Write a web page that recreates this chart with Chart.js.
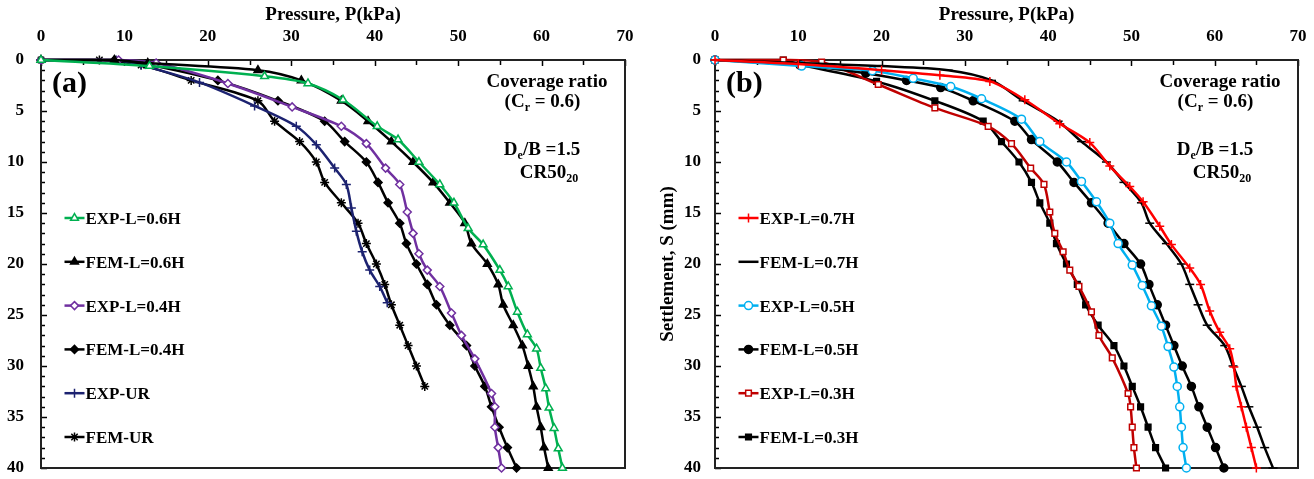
<!DOCTYPE html>
<html><head><meta charset="utf-8">
<script src="https://cdn.jsdelivr.net/npm/chart.js@4.4.1/dist/chart.umd.min.js"></script>
<style>
html,body{margin:0;padding:0;background:#fff;}
#wrap{position:relative;width:1314px;height:479px;overflow:hidden;}
canvas{position:absolute;top:0;}
</style></head><body>
<div id="wrap">
<canvas id="ca" width="657" height="479" style="left:0"></canvas>
<canvas id="cb" width="657" height="479" style="left:657px"></canvas>
</div>
<script>
// ---- tick labels ----
const xTickValues = [0, 10, 20, 30, 40, 50, 60, 70];
const yTickValues = [0, 5, 10, 15, 20, 25, 30, 35, 40];

// ---- panel (a) ----
const labelsA = ['EXP-L=0.6H', 'FEM-L=0.6H', 'EXP-L=0.4H', 'FEM-L=0.4H', 'EXP-UR', 'FEM-UR'];
const pExp06 = [0, 13, 26.8, 32, 36.2, 40.3, 42.8, 45.3, 47.8, 49.5, 51.2, 53, 55, 56, 57.1, 58.3, 59.4, 59.9, 60.5, 60.9, 61.5, 62.0, 62.5];
const sExp06 = [0, 0.6, 1.6, 2.3, 3.9, 6.5, 7.8, 10.0, 12.2, 14, 16.5, 18.1, 20.6, 22.2, 24.7, 26.9, 28.3, 30.2, 32.2, 34.1, 36.1, 38.1, 40];
const pFem06 = [0, 8.8, 12.8, 26, 31.2, 36, 39.2, 42, 44.6, 47, 49, 50.8, 51.6, 53.5, 54.8, 55.4, 56.6, 57.7, 58.4, 59, 59.4, 59.9, 60.3, 60.8];
const sFem06 = [0, 0, 0.3, 1.0, 2, 4, 6, 8, 10, 12, 14, 16, 18, 20, 22, 24, 26, 28, 30, 32, 34, 36, 38, 40];
const pExp04 = [0, 9.3, 13.8, 22.4, 30.1, 36, 39, 41.3, 43, 43.9, 44.6, 45.3, 46.3, 47.8, 49.2, 50.4, 52, 54, 54.4, 54.4, 54.8, 55.2];
const sExp04 = [0, 0, 0.3, 2.3, 4.6, 6.5, 8.2, 10.6, 12.2, 14.9, 17, 19, 20.6, 22.2, 24.8, 27, 29.3, 32.7, 34, 36, 38, 40];
const pFem04 = [0, 8.8, 12.5, 21.2, 28.4, 34, 36.4, 39, 40.4, 41.6, 43, 43.8, 45, 46.3, 47.4, 49, 51, 52, 53.2, 54, 54.9, 55.9, 57];
const sFem04 = [0, 0, 0.4, 2, 4, 6, 8, 10, 12, 14, 16, 18, 20, 22, 24, 26, 28, 30, 32, 34, 36, 38, 40];
const pExpUR = [0, 9, 12, 19, 25.6, 30.6, 33, 35.2, 36.6, 37.2, 37.8, 38.5, 39.4, 40.6, 41.5];
const sExpUR = [0, 0, 0.5, 2.2, 4.5, 6.5, 8.3, 10.6, 12.2, 14.5, 16.8, 18.8, 20.6, 22.2, 23.8];
const pFemUR = [0, 7, 12, 18, 26, 28, 31, 33, 34, 36, 38, 39, 40.2, 41.2, 42, 43, 44, 45, 46];
const sFemUR = [0, 0, 0.5, 2, 4, 6, 8, 10, 12, 14, 16, 18, 20, 22, 24, 26, 28, 30, 32];

// ---- panel (b) ----
const labelsB = ['EXP-L=0.7H', 'FEM-L=0.7H', 'EXP-L=0.5H', 'FEM-L=0.5H', 'EXP-L=0.3H', 'FEM-L=0.3H'];
const pExp07 = [0, 10, 20, 27, 33, 37.2, 41.4, 45, 47.4, 49.8, 51.4, 53.4, 54.8, 57, 58.3, 59.4, 60.6, 61.8, 62.3, 62.6, 63.2, 63.8, 64.4, 65];
const sExp07 = [0, 0.4, 1.0, 1.5, 2.1, 3.9, 6.25, 8.1, 10.4, 12.4, 13.9, 16.3, 18.1, 20.4, 22, 24.6, 26.7, 28.3, 30.1, 32, 34, 36, 38, 40];
const pFem07 = [0, 10, 20, 28, 33.2, 37, 41.2, 44, 47, 49.1, 51.2, 52.2, 54.2, 56, 57, 58, 59.1, 61.2, 62.2, 63.2, 64.1, 65.1, 66, 67];
const sFem07 = [0, 0.3, 0.6, 1.0, 2.0, 4, 6, 8, 10, 12, 14, 16, 18, 20, 22, 24, 26, 28, 30, 32, 34, 36, 38, 40];
const pExp05 = [0, 10.4, 18.9, 23.8, 28.3, 32, 36.8, 39, 42.2, 44, 45.8, 47.4, 48.4, 50.1, 51.3, 52.4, 53.6, 54.4, 55.1, 55.5, 55.8, 56, 56.2, 56.6];
const sExp05 = [0, 0.6, 1.05, 1.8, 2.6, 3.8, 5.8, 8, 10, 11.9, 13.9, 16, 18, 20.1, 22.1, 24.1, 26.1, 28.1, 30.1, 32, 34, 36, 38, 40];
const pFem05 = [0, 10.2, 18.1, 23, 27.1, 31, 36, 38, 41.1, 43.1, 45.2, 47.2, 49.1, 51.1, 52.1, 53.1, 54.1, 55.1, 56.1, 57.2, 58.1, 59.1, 60.1, 61.1];
const sFem05 = [0, 0.5, 1.3, 2, 2.7, 4, 6, 7.8, 10, 12, 14, 16, 18, 20, 22, 24, 26, 28, 30, 32, 34, 36, 38, 40];
const pExp03 = [0, 8.2, 12.8, 19.6, 26.4, 32.8, 35.6, 37.9, 39.5, 40.2, 40.8, 41.8, 42.6, 43.7, 45.2, 46.1, 47.7, 49.6, 49.9, 50.1, 50.3, 50.6];
const sExp03 = [0, 0, 0.2, 2.4, 4.7, 6.5, 8.2, 10.6, 12.2, 14.9, 17, 18.8, 20.6, 22.2, 24.7, 27, 29.2, 32.7, 34, 36, 38, 40];
const pFem03 = [0, 8.2, 10.4, 19.4, 26.4, 32.2, 34.4, 36.5, 38, 39, 40.2, 41, 42.2, 43.5, 44.5, 46, 47.9, 49.1, 50.1, 51.1, 52, 52.9, 54.1];
const sFem03 = [0, 0, 0.5, 2.1, 4, 6, 8, 10, 12, 14, 16, 18, 20, 22, 24, 26, 28, 30, 32, 34, 36, 38, 40];

const FONT = '"Liberation Serif","Times New Roman",serif';

function pts(P, S) { return P.map((p, i) => ({ x: p, y: S[i] })); }
function ds(label, P, S, color, style, open, r) {
  return {
    label, data: pts(P, S), showLine: true, borderColor: color, borderWidth: 2.5,
    backgroundColor: open ? '#ffffff' : color,
    pointStyle: style, pointRadius: r || 4, pointBorderWidth: 1.5,
    pointBorderColor: color, pointBackgroundColor: open ? '#ffffff' : color,
    tension: 0.3, clip: false
  };
}

function drawRich(ctx, parts, cx, base, size) {
  const items = parts.map(([t, sub]) => {
    const f = 'bold ' + (sub ? Math.round(size * 0.65) : size) + 'px ' + FONT;
    ctx.font = f;
    return { t, sub, f, w: ctx.measureText(t).width };
  });
  const W = items.reduce((a, b) => a + b.w, 0);
  let x = cx - W / 2;
  ctx.textAlign = 'left'; ctx.textBaseline = 'alphabetic'; ctx.fillStyle = '#000';
  items.forEach(it => { ctx.font = it.f; ctx.fillText(it.t, x, base + (it.sub ? size * 0.22 : 0)); x += it.w; });
}

function makePlugin(tag) {
  return {
    id: 'deco',
    beforeDatasetsDraw(chart) {
      const { ctx, chartArea: a, scales: { x, y } } = chart;
      ctx.save();
      ctx.strokeStyle = '#000'; ctx.lineWidth = 1.5;
      for (let v = 0; v <= 70; v += 5) {
        const px = Math.round(x.getPixelForValue(v)) + 0.5;
        ctx.beginPath(); ctx.moveTo(px, a.top); ctx.lineTo(px, a.top + (v % 10 === 0 ? 6 : 5)); ctx.stroke();
      }
      for (let v = 0; v <= 40; v += 1) {
        const py = Math.round(y.getPixelForValue(v)) + 0.5;
        ctx.beginPath(); ctx.moveTo(a.left, py); ctx.lineTo(a.left + (v % 5 === 0 ? 6 : 4), py); ctx.stroke();
      }
      ctx.lineWidth = 2; ctx.strokeStyle = '#222';
      ctx.strokeRect(a.left, a.top, a.right - a.left, a.bottom - a.top);
      ctx.restore();
    },
    afterDraw(chart) {
      const { ctx, chartArea: a } = chart;
      ctx.save();
      ctx.font = 'bold 30px ' + FONT; ctx.fillStyle = '#000'; ctx.textAlign = 'left'; ctx.textBaseline = 'alphabetic';
      ctx.fillText(tag, a.left + 11, 92);
      drawRich(ctx, [['Coverage ratio', false]], a.right - 78, 87, 19);
      drawRich(ctx, [['(C', false], ['r', true], [' = 0.6)', false]], a.right - 82.5, 107, 19);
      drawRich(ctx, [['D', false], ['e', true], ['/B =1.5', false]], a.right - 83, 155, 19);
      drawRich(ctx, [['CR50', false], ['20', true]], a.right - 76, 178, 19);
      chart.data.datasets.forEach((d, i) => {
        const yy = 218 + i * 43.8;
        const x0 = a.left + 23.5, x1 = a.left + 43.5;
        ctx.strokeStyle = d.borderColor; ctx.lineWidth = 2.5;
        ctx.beginPath(); ctx.moveTo(x0, yy); ctx.lineTo(x1, yy); ctx.stroke();
        ctx.fillStyle = d.pointBackgroundColor; ctx.strokeStyle = d.pointBorderColor; ctx.lineWidth = d.pointBorderWidth;
        Chart.helpers.drawPoint(ctx, { pointStyle: d.pointStyle, radius: d.pointRadius, rotation: 0, borderWidth: d.pointBorderWidth }, (x0 + x1) / 2, yy);
        ctx.font = 'bold 17px ' + FONT; ctx.fillStyle = '#000'; ctx.textAlign = 'left'; ctx.textBaseline = 'alphabetic';
        ctx.fillText(d.label, a.left + 44.5, yy + 6);
      });
      ctx.restore();
    }
  };
}

function makeChart(id, datasets, tag, yW, padRight, yTitle, yPad) {
  return new Chart(document.getElementById(id), {
    type: 'scatter',
    data: { datasets },
    options: {
      responsive: false, animation: false,
      layout: { padding: { left: 0, right: padRight, top: 0, bottom: 11 } },
      plugins: { legend: { display: false }, tooltip: { enabled: false } },
      scales: {
        x: {
          type: 'linear', position: 'top', min: 0, max: 70,
          afterBuildTicks: s => { s.ticks = xTickValues.map(v => ({ value: v })); },
          afterFit: s => { s.height = 60; s.paddingLeft = 0; s.paddingRight = 0; },
          grid: { display: false, drawTicks: false }, border: { display: false },
          ticks: { color: '#000', font: { family: FONT, size: 17, weight: 'bold' }, padding: 13, maxRotation: 0, autoSkip: false },
          title: { display: true, text: 'Pressure, P(kPa)', color: '#000', font: { family: FONT, size: 19, weight: 'bold' }, padding: { top: 4, bottom: 0 } }
        },
        y: {
          type: 'linear', reverse: true, min: 0, max: 40,
          afterBuildTicks: s => { s.ticks = yTickValues.map(v => ({ value: v })); },
          afterFit: s => { s.width = yW; s.paddingTop = 0; s.paddingBottom = 0; },
          grid: { display: false, drawTicks: false }, border: { display: false },
          ticks: { color: '#000', font: { family: FONT, size: 17, weight: 'bold' }, padding: yPad, autoSkip: false },
          title: { display: !!yTitle, text: yTitle || '', color: '#000', font: { family: FONT, size: 19, weight: 'bold' }, padding: { top: 0, bottom: 0 } }
        }
      }
    },
    plugins: [makePlugin(tag)]
  });
}

makeChart('ca', [
  ds(labelsA[0], pExp06, sExp06, '#00B050', 'triangle', true, 4.5),
  ds(labelsA[1], pFem06, sFem06, '#000000', 'triangle', false, 4.5),
  ds(labelsA[2], pExp04, sExp04, '#7030A0', 'rectRot', true, 4),
  ds(labelsA[3], pFem04, sFem04, '#000000', 'rectRot', false, 4),
  ds(labelsA[4], pExpUR, sExpUR, '#1C2270', 'cross', false, 4.5),
  ds(labelsA[5], pFemUR, sFemUR, '#000000', 'star', false, 4.5)
], '(a)', 41, 32, null, 17);

makeChart('cb', [
  ds(labelsB[0], pExp07, sExp07, '#FF0000', 'cross', false, 4.5),
  ds(labelsB[1], pFem07, sFem07, '#000000', 'line', false, 4.5),
  ds(labelsB[2], pExp05, sExp05, '#00B0F0', 'circle', true, 4),
  ds(labelsB[3], pFem05, sFem05, '#000000', 'circle', false, 4),
  ds(labelsB[4], pExp03, sExp03, '#C00000', 'rect', true, 4),
  ds(labelsB[5], pFem03, sFem03, '#000000', 'rect', false, 4)
], '(b)', 58, 16, 'Settlement, S (mm)', 14);
</script>
</body></html>
